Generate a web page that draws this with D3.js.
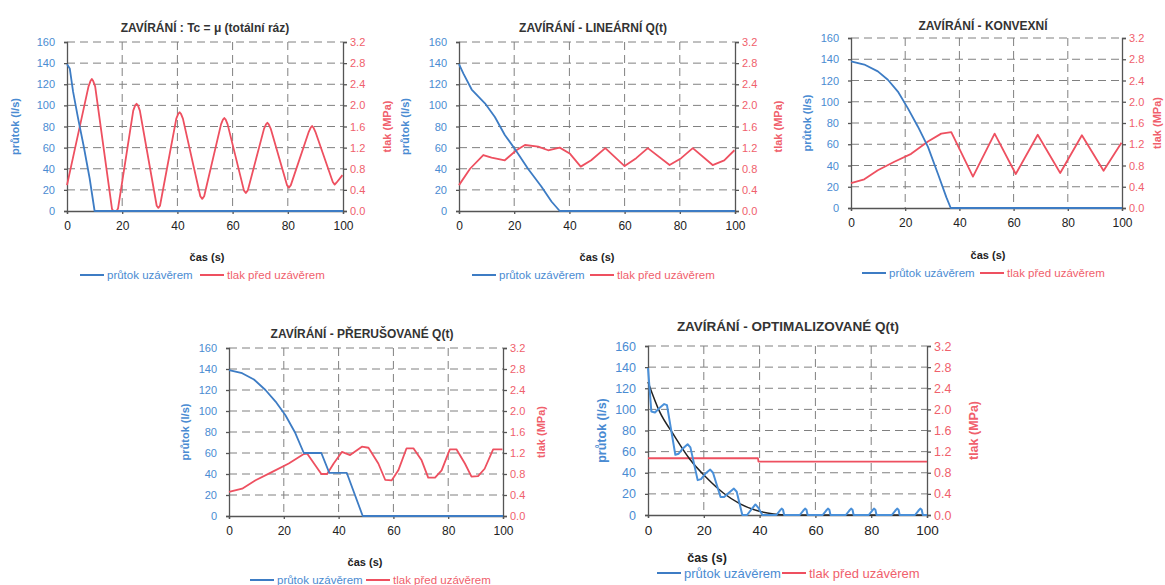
<!DOCTYPE html>
<html>
<head>
<meta charset="UTF-8">
<title>Zavírání - průtok a tlak</title>
<script src="https://cdn.jsdelivr.net/npm/d3@7"></script>
<style>
  body { margin: 0; background: #fff; }
  svg { font-family: Arial, "Liberation Sans", sans-serif; }
</style>
</head>
<body>
<div id="chart"></div>
<script>
// ---- data: [čas (s), value] ----
var xTicks = [0, 20, 40, 60, 80, 100];
var qTicks = [0, 20, 40, 60, 80, 100, 120, 140, 160];
var pTicks = [0, 0.4, 0.8, 1.2, 1.6, 2.0, 2.4, 2.8, 3.2];

var titles = [
  "ZAVÍRÁNÍ : Tc = μ (totální ráz)",
  "ZAVÍRÁNÍ - LINEÁRNÍ Q(t)",
  "ZAVÍRÁNÍ - KONVEXNÍ",
  "ZAVÍRÁNÍ - PŘERUŠOVANÉ Q(t)",
  "ZAVÍRÁNÍ - OPTIMALIZOVANÉ Q(t)"
];
var legendNames = ["průtok uzávěrem", "tlak před uzávěrem"];

// 1 - total hammer
var flow1 = [[0,139],[1,135],[2.2,113],[4,88],[6,62],[8.2,31],[10,0],[100,0]];
var press1 = [[0,0.49],[7.8,2.36],[8.5,2.46],[9,2.5],[9.5,2.46],[10.2,2.36],[16.3,0.04],[16.8,0],[18,0],
  [18.5,0.05],[24,1.9],[24.7,2.0],[25.2,2.03],[25.7,2.0],[26.4,1.9],[32.5,0.1],[33.1,0.06],[33.7,0.1],
  [39.6,1.75],[40.3,1.84],[40.8,1.87],[41.3,1.84],[42,1.75],[48.3,0.28],[49,0.23],[49.7,0.28],
  [55.8,1.64],[56.5,1.73],[57,1.76],[57.5,1.73],[58.2,1.64],[64.1,0.39],[64.8,0.34],[65.5,0.39],
  [71.4,1.56],[72.1,1.64],[72.6,1.67],[73.1,1.64],[73.8,1.56],[79.7,0.49],[80.4,0.44],[81.1,0.49],
  [87.6,1.5],[88.3,1.58],[88.8,1.61],[89.3,1.58],[90,1.5],[96.3,0.55],[97,0.5],[97.7,0.54],[99.8,0.68]];

// 2 - linear
var flow2 = [[0,139],[1.6,130],[4.6,115],[9.4,102],[13,89],[16.6,72],[20.2,59],[25,40],[29.9,23],[33.5,9],[36.5,0],[100,0]];
var press2 = [[0,0.49],[4,0.8],[8.8,1.06],[11.8,1.01],[16.6,0.96],[20.8,1.15],[23.9,1.25],[28.7,1.22],[32.3,1.15],
  [36.5,1.2],[40.1,1.09],[44.1,0.84],[47.9,0.96],[53,1.19],[60,0.85],[64.2,1.0],[68.4,1.19],[76.3,0.87],
  [80.5,1.0],[84.7,1.19],[91.9,0.87],[96.1,0.96],[99.8,1.15]];

// 3 - convex
var flow3 = [[0,138],[4.9,135],[9.9,128.6],[13.6,120.7],[17.3,109.6],[21,93.8],[24.7,76.5],[28.4,57.5],[32.1,32],[35.2,10],[36.8,0],[100,0]];
var press3 = [[0,0.47],[4.9,0.54],[9.9,0.71],[16,0.87],[22.2,1.02],[28.4,1.25],[33.3,1.4],[37,1.43],[45,0.59],
  [53,1.4],[60.8,0.64],[68.9,1.38],[77.2,0.66],[85.2,1.37],[93.2,0.7],[99.8,1.23]];

// 4 - interrupted
var flow4 = [[0,139],[4.8,136],[9.1,130],[13.3,120],[17,109],[20.6,96],[24.2,79],[27.3,60],[33.7,60],[36.6,41],
  [43,41],[48.8,0],[100,0]];
var press4 = [[0,0.46],[4.8,0.52],[9.7,0.68],[15.8,0.84],[21.8,1.0],[27.3,1.18],[28.5,1.19],[33.7,0.8],[35.8,0.8],
  [38.2,1.0],[41.2,1.22],[44.2,1.16],[48.5,1.32],[50.9,1.3],[54.5,1.0],[57,0.69],[59.4,0.68],[61.8,0.87],
  [64.8,1.29],[67.3,1.29],[70.3,1.06],[72.7,0.73],[75.2,0.73],[77.6,0.87],[80.6,1.27],[83,1.27],[86.1,1.0],
  [88.5,0.75],[90.9,0.76],[93.3,0.9],[96.4,1.27],[99.8,1.27]];

// 5 - optimised
var flow5 = [[0,139],[1.2,98],[2.5,97],[4,101],[5.8,105],[6.8,104],[9.8,57],[11,58],[12.5,63],[14.2,67],[15.2,64],
  [17.8,33],[19,34],[20.5,39],[22.3,43],[23.3,40],[26,17],[27.3,17],[29,21],[30.8,25],[31.8,22],[33.8,0],
  [35.5,0],[37,5],[38.5,10],[39.5,7],[41,0],[46,0],[47.2,4],[47.9,6],[48.4,5],[48.8,0],[54.4,0],[55.6,4],
  [56.3,6],[56.8,5],[57.2,0],[62.6,0],[63.8,4],[64.5,6],[65,5],[65.4,0],[70.9,0],[72.1,4],[72.8,6],[73.3,5],
  [73.7,0],[79.1,0],[80.3,4],[81,6],[81.5,5],[81.9,0],[87.4,0],[88.6,4],[89.3,6],[89.8,5],[90.2,0],[95.7,0],
  [96.9,4],[97.6,6],[98.1,5],[98.5,0],[100,0]];
var ideal5 = [[0,126],[4.2,97.6],[9,76.8],[15,52.8],[21,35.2],[27,20.8],[33,10.6],[39,4.2],[45,1],[50,0],[100,0]];
var press5 = [[0,1.075],[39.4,1.075],[39.6,1.01],[100,1.01]];

// ---- layout ----
var W = 1165, H = 585;
var blue = "#3d7cc4", red = "#ee5060", blueText = "#4a8bd2", redText = "#f0606c";

var charts = [
  {x0: 67, y0: 42, w: 276, h: 169, tx: 205, ty: 32, lx: 15, rx: 387, cx: 207, cy: 261, ly: 275, bl: 80, rl: 200, fs: 11, flow: flow1, press: press1},
  {x0: 459, y0: 42, w: 276, h: 169, tx: 593, ty: 32, lx: 405, rx: 778, cx: 597, cy: 261, ly: 275, bl: 472, rl: 590, fs: 11, flow: flow2, press: press2},
  {x0: 851, y0: 38, w: 271, h: 170, tx: 983, ty: 30, lx: 807, rx: 1157, cx: 988, cy: 259, ly: 273, bl: 862, rl: 980, fs: 11, flow: flow3, press: press3},
  {x0: 229, y0: 348, w: 274, h: 168, tx: 362, ty: 338, lx: 185, rx: 541, cx: 365, cy: 566, ly: 580, bl: 250, rl: 366, fs: 11, flow: flow4, press: press4},
  {x0: 648, y0: 346, w: 279, h: 169, tx: 788, ty: 331, lx: 602, rx: 974, cx: 707, cy: 562, ly: 573, bl: 657, rl: 782, fs: 12.5, flow: flow5, press: press5, ideal: ideal5}
];

var svg = d3.select("#chart").append("svg")
    .attr("width", W)
    .attr("height", H);

charts.forEach(function (c, i) {
    var x = d3.scaleLinear().domain([0, 100]).range([0, c.w]);
    var y = d3.scaleLinear().domain([0, 160]).range([c.h, 0]);
    var y2 = d3.scaleLinear().domain([0, 3.2]).range([c.h, 0]);

    var g = svg.append("g").attr("transform", "translate(" + c.x0 + "," + c.y0 + ")");

    // dashed grid
    g.selectAll(".hg").data(qTicks.slice(1)).enter().append("line")
        .attr("x1", 0).attr("x2", c.w)
        .attr("y1", function (d) { return y(d); }).attr("y2", function (d) { return y(d); })
        .attr("stroke", "#808080").attr("stroke-width", 1).attr("stroke-dasharray", "8,5");
    g.selectAll(".vg").data(xTicks.slice(1, -1)).enter().append("line")
        .attr("y1", 0).attr("y2", c.h)
        .attr("x1", function (d) { return x(d); }).attr("x2", function (d) { return x(d); })
        .attr("stroke", "#808080").attr("stroke-width", 1).attr("stroke-dasharray", "8,5");

    // axes
    var left = g.append("g").call(d3.axisLeft(y).tickValues(qTicks).tickSize(3).tickPadding(9));
    left.selectAll("text").attr("fill", blueText).style("font-size", c.fs + "px");

    var right = g.append("g").attr("transform", "translate(" + c.w + ",0)")
        .call(d3.axisRight(y2).tickValues(pTicks).tickSize(4).tickFormat(d3.format(".1f")).tickPadding(3));
    right.selectAll("text").attr("fill", redText).style("font-size", c.fs + "px");

    var bottom = g.append("g").attr("transform", "translate(0," + c.h + ")")
        .call(d3.axisBottom(x).tickValues(xTicks).tickSize(3).tickPadding(7));
    bottom.selectAll("text").attr("fill", "#222").style("font-size", (c.fs + 1) + "px");

    g.selectAll(".domain, .tick line").attr("stroke", "#555").attr("stroke-width", 1.3);

    // series
    var qLine = d3.line().x(function (d) { return x(d[0]); }).y(function (d) { return y(d[1]); });
    var pLine = d3.line().x(function (d) { return x(d[0]); }).y(function (d) { return y2(d[1]); });

    g.append("path").datum(c.press)
        .attr("d", pLine)
        .attr("fill", "none").attr("stroke", red).attr("stroke-width", 1.8).attr("stroke-linejoin", "round");
    if (c.ideal) {
        g.append("path").datum(c.ideal)
            .attr("d", d3.line().x(function (d) { return x(d[0]); }).y(function (d) { return y(d[1]); }).curve(d3.curveMonotoneX))
            .attr("fill", "none").attr("stroke", "#222").attr("stroke-width", 1.5);
    }
    g.append("path").datum(c.flow)
        .attr("d", qLine)
        .attr("fill", "none").attr("stroke", c.ideal ? "#4a90d9" : blue).attr("stroke-width", c.ideal ? 2 : 1.8)
        .attr("stroke-linejoin", "round");

    // titles
    svg.append("text").attr("x", c.tx).attr("y", c.ty).attr("text-anchor", "middle")
        .attr("font-weight", "bold").attr("fill", "#333").style("font-size", (c.fs + 1) + "px")
        .text(titles[i]);
    svg.append("text").attr("transform", "translate(" + c.lx + "," + (c.y0 + c.h / 2) + ") rotate(-90)")
        .attr("text-anchor", "middle").attr("dy", "0.35em").attr("font-weight", "bold")
        .attr("fill", blueText).style("font-size", c.fs + "px").text("průtok (l/s)");
    svg.append("text").attr("transform", "translate(" + c.rx + "," + (c.y0 + c.h / 2) + ") rotate(-90)")
        .attr("text-anchor", "middle").attr("dy", "0.35em").attr("font-weight", "bold")
        .attr("fill", redText).style("font-size", c.fs + "px").text("tlak (MPa)");
    svg.append("text").attr("x", c.cx).attr("y", c.cy).attr("text-anchor", "middle")
        .attr("font-weight", "bold").attr("fill", "#222").style("font-size", c.fs + "px")
        .text("čas (s)");

    // legend
    [[c.bl, blue, blueText], [c.rl, red, redText]].forEach(function (l, k) {
        svg.append("line").attr("x1", l[0]).attr("x2", l[0] + 24)
            .attr("y1", c.ly).attr("y2", c.ly).attr("stroke", l[1]).attr("stroke-width", 2);
        svg.append("text").attr("x", l[0] + 27).attr("y", c.ly).attr("dy", "0.35em")
            .attr("fill", l[2]).style("font-size", (c.fs + 0.5) + "px").text(legendNames[k]);
    });
});
</script>
</body>
</html>
